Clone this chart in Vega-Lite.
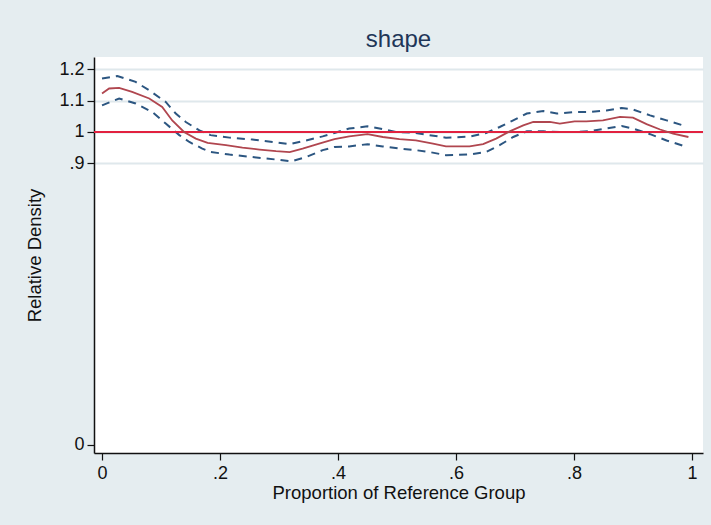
{
  "$schema": "https://vega.github.io/schema/vega-lite/v6.json",
  "width": 609,
  "height": 396,
  "autosize": {"type": "none"},
  "padding": {"left": 94, "top": 57, "right": 8, "bottom": 72},
  "background": "#e5edf0",
  "view": {"fill": "white", "stroke": null},
  "title": {"text": "shape", "fontSize": 24, "font": "Liberation Sans", "fontWeight": "normal", "color": "#1f3658", "offset": 5},
  "config": {
    "font": "Liberation Sans",
    "axis": {"labelFont": "Liberation Sans", "titleFont": "Liberation Sans", "labelFontSize": 18, "titleFontSize": 18.5, "titleFontWeight": "normal", "labelColor": "#111", "titleColor": "#111", "domainColor": "#111", "tickColor": "#111", "domainWidth": 1.5, "tickWidth": 1.2, "tickSize": 7}
  },
  "data": {"values": [
    {"s":"est","x":0,"y":1.123},{"s":"est","x":0.012,"y":1.139},{"s":"est","x":0.029,"y":1.141},{"s":"est","x":0.051,"y":1.128},{"s":"est","x":0.08,"y":1.107},{"s":"est","x":0.102,"y":1.08},{"s":"est","x":0.119,"y":1.037},{"s":"est","x":0.139,"y":1.0},{"s":"est","x":0.159,"y":0.979},{"s":"est","x":0.179,"y":0.965},{"s":"est","x":0.21,"y":0.958},{"s":"est","x":0.238,"y":0.95},{"s":"est","x":0.267,"y":0.944},{"s":"est","x":0.295,"y":0.939},{"s":"est","x":0.318,"y":0.936},{"s":"est","x":0.34,"y":0.947},{"s":"est","x":0.368,"y":0.963},{"s":"est","x":0.394,"y":0.977},{"s":"est","x":0.419,"y":0.986},{"s":"est","x":0.45,"y":0.993},{"s":"est","x":0.476,"y":0.984},{"s":"est","x":0.504,"y":0.977},{"s":"est","x":0.532,"y":0.973},{"s":"est","x":0.561,"y":0.963},{"s":"est","x":0.583,"y":0.954},{"s":"est","x":0.623,"y":0.954},{"s":"est","x":0.646,"y":0.961},{"s":"est","x":0.668,"y":0.979},{"s":"est","x":0.691,"y":1.002},{"s":"est","x":0.714,"y":1.021},{"s":"est","x":0.731,"y":1.032},{"s":"est","x":0.759,"y":1.032},{"s":"est","x":0.776,"y":1.027},{"s":"est","x":0.801,"y":1.034},{"s":"est","x":0.821,"y":1.034},{"s":"est","x":0.849,"y":1.037},{"s":"est","x":0.878,"y":1.048},{"s":"est","x":0.9,"y":1.046},{"s":"est","x":0.923,"y":1.025},{"s":"est","x":0.946,"y":1.008},{"s":"est","x":0.968,"y":0.995},{"s":"est","x":0.994,"y":0.984},
    {"s":"hi","x":0,"y":1.171},{"s":"hi","x":0.026,"y":1.179},{"s":"hi","x":0.057,"y":1.16},{"s":"hi","x":0.08,"y":1.133},{"s":"hi","x":0.108,"y":1.096},{"s":"hi","x":0.125,"y":1.059},{"s":"hi","x":0.142,"y":1.032},{"s":"hi","x":0.165,"y":1.005},{"s":"hi","x":0.184,"y":0.99},{"s":"hi","x":0.216,"y":0.982},{"s":"hi","x":0.255,"y":0.976},{"s":"hi","x":0.289,"y":0.968},{"s":"hi","x":0.318,"y":0.961},{"s":"hi","x":0.346,"y":0.973},{"s":"hi","x":0.374,"y":0.986},{"s":"hi","x":0.394,"y":0.997},{"s":"hi","x":0.419,"y":1.011},{"s":"hi","x":0.45,"y":1.018},{"s":"hi","x":0.476,"y":1.009},{"s":"hi","x":0.499,"y":1.0},{"s":"hi","x":0.527,"y":0.998},{"s":"hi","x":0.555,"y":0.99},{"s":"hi","x":0.583,"y":0.982},{"s":"hi","x":0.623,"y":0.985},{"s":"hi","x":0.651,"y":0.997},{"s":"hi","x":0.674,"y":1.016},{"s":"hi","x":0.697,"y":1.037},{"s":"hi","x":0.72,"y":1.059},{"s":"hi","x":0.748,"y":1.067},{"s":"hi","x":0.771,"y":1.059},{"s":"hi","x":0.801,"y":1.064},{"s":"hi","x":0.827,"y":1.064},{"s":"hi","x":0.855,"y":1.069},{"s":"hi","x":0.881,"y":1.077},{"s":"hi","x":0.9,"y":1.072},{"s":"hi","x":0.929,"y":1.053},{"s":"hi","x":0.957,"y":1.037},{"s":"hi","x":0.985,"y":1.021},
    {"s":"lo","x":0,"y":1.085},{"s":"lo","x":0.029,"y":1.107},{"s":"lo","x":0.057,"y":1.091},{"s":"lo","x":0.085,"y":1.064},{"s":"lo","x":0.108,"y":1.027},{"s":"lo","x":0.131,"y":0.99},{"s":"lo","x":0.148,"y":0.968},{"s":"lo","x":0.17,"y":0.947},{"s":"lo","x":0.184,"y":0.936},{"s":"lo","x":0.216,"y":0.928},{"s":"lo","x":0.255,"y":0.92},{"s":"lo","x":0.295,"y":0.912},{"s":"lo","x":0.32,"y":0.906},{"s":"lo","x":0.346,"y":0.92},{"s":"lo","x":0.374,"y":0.942},{"s":"lo","x":0.394,"y":0.952},{"s":"lo","x":0.419,"y":0.954},{"s":"lo","x":0.45,"y":0.961},{"s":"lo","x":0.476,"y":0.954},{"s":"lo","x":0.504,"y":0.947},{"s":"lo","x":0.532,"y":0.942},{"s":"lo","x":0.555,"y":0.936},{"s":"lo","x":0.583,"y":0.926},{"s":"lo","x":0.623,"y":0.928},{"s":"lo","x":0.651,"y":0.936},{"s":"lo","x":0.674,"y":0.958},{"s":"lo","x":0.697,"y":0.984},{"s":"lo","x":0.72,"y":1.002},{"s":"lo","x":0.748,"y":1.002},{"s":"lo","x":0.776,"y":1.0},{"s":"lo","x":0.801,"y":1.0},{"s":"lo","x":0.827,"y":1.003},{"s":"lo","x":0.855,"y":1.011},{"s":"lo","x":0.881,"y":1.019},{"s":"lo","x":0.9,"y":1.011},{"s":"lo","x":0.929,"y":0.993},{"s":"lo","x":0.957,"y":0.973},{"s":"lo","x":0.988,"y":0.954}
  ]},
  "encoding": {
    "x": {"field": "x", "type": "quantitative", "scale": {"domain": [-0.0136, 1.0187], "nice": false, "zero": false},
      "axis": {"title": "Proportion of Reference Group", "values": [0, 0.2, 0.4, 0.6, 0.8, 1], "format": "~g", "labelExpr": "replace(datum.label, '0.', '.')", "grid": false, "labelPadding": 4, "titlePadding": 1}},
    "y": {"field": "y", "type": "quantitative", "scale": {"domain": [-0.0256, 1.2396], "nice": false, "zero": false},
      "axis": {"title": "Relative Density", "values": [0, 0.9, 1, 1.1, 1.2], "format": "~g", "labelExpr": "replace(datum.label, '0.', '.')", "grid": true, "gridColor": "#dfe8ec", "gridWidth": 2, "gridOpacity": {"condition": {"test": "datum.value === 0", "value": 0}, "value": 1}, "labelPadding": 3, "titlePadding": 14}}
  },
  "layer": [
    {"transform": [{"filter": "datum.s !== 'est'"}], "mark": {"type": "line", "strokeWidth": 2, "strokeDash": [8, 6], "color": "#2c5681"}, "encoding": {"detail": {"field": "s"}}},
    {"mark": {"type": "rule", "color": "#e2213f", "strokeWidth": 2}, "encoding": {"y": {"datum": 1}, "x": null}},
    {"transform": [{"filter": "datum.s === 'est'"}], "mark": {"type": "line", "strokeWidth": 1.8, "color": "#b0464f"}}
  ]
}
